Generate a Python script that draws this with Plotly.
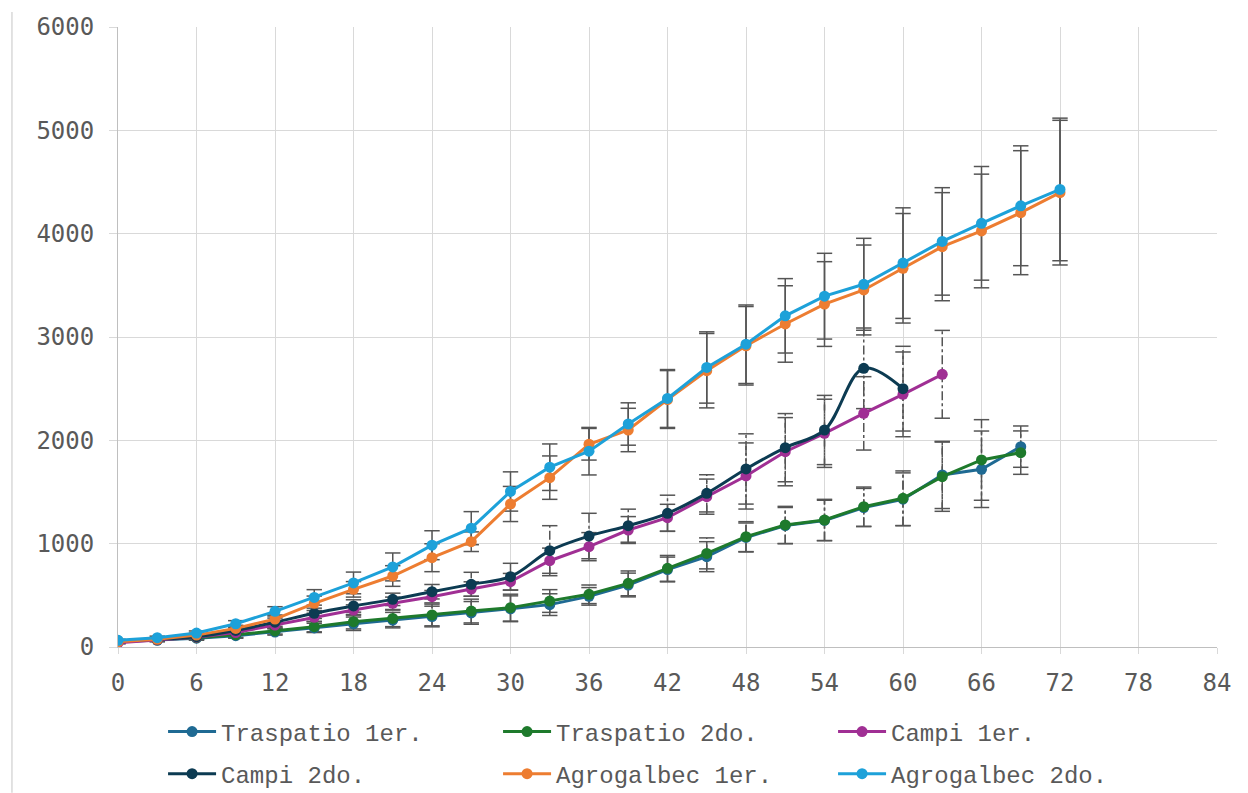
import plotly.graph_objects as go

t_all = [0, 3, 6, 9, 12, 15, 18, 21, 24, 27, 30, 33, 36, 39, 42, 45, 48, 51, 54, 57, 60, 63, 66, 69, 72]

tras1 = [50, 65, 85, 110, 145, 185, 225, 260, 295, 330, 370, 410, 490, 600, 750, 874, 1060, 1175, 1225, 1350, 1430, 1665, 1720, 1939]
tras1_err = [10, 15, 20, 25, 30, 45, 65, 75, 100, 110, 125, 105, 85, 115, 120, 145, 140, 175, 195, 185, 255, 325, 370, 200]

tras2 = [55, 70, 90, 118, 155, 197, 245, 277, 310, 348, 381, 445, 510, 616, 761, 906, 1068, 1181, 1229, 1358, 1439, 1648, 1810, 1881]
tras2_err = [10, 15, 20, 25, 30, 50, 70, 80, 105, 115, 130, 110, 90, 120, 125, 150, 145, 180, 200, 190, 265, 335, 390, 210]

campi1 = [40, 70, 95, 140, 213, 287, 358, 423, 487, 561, 632, 835, 971, 1132, 1251, 1455, 1655, 1890, 2068, 2261, 2445, 2639]
campi1_err = [10, 15, 20, 25, 30, 40, 50, 60, 60, 70, 80, 122, 136, 130, 130, 170, 320, 330, 330, 355, 410, 425]

campi2 = [60, 75, 100, 160, 240, 326, 397, 461, 535, 607, 680, 932, 1074, 1174, 1294, 1487, 1723, 1929, 2100, 2697, 2500]
campi2_err = [10, 15, 20, 25, 40, 50, 60, 60, 70, 116, 130, 242, 220, 160, 175, 180, 340, 330, 335, 390, 410]

agro1 = [50, 75, 115, 180, 270, 423, 558, 687, 864, 1019, 1384, 1639, 1962, 2100, 2395, 2674, 2915, 3126, 3319, 3455, 3665, 3874, 4026, 4203, 4397]
agro1_err = [10, 15, 20, 30, 40, 70, 75, 100, 135, 95, 170, 210, 153, 210, 280, 360, 380, 370, 410, 435, 530, 523, 550, 600, 700]

agro2 = [65, 90, 135, 225, 345, 480, 620, 775, 985, 1150, 1505, 1740, 1895, 2158, 2405, 2705, 2930, 3205, 3395, 3510, 3715, 3925, 4100, 4270, 4428]
agro2_err = [10, 15, 20, 30, 45, 75, 105, 135, 140, 160, 190, 225, 230, 205, 280, 345, 380, 360, 415, 445, 535, 520, 550, 580, 690]

series = [
    ("Traspatio 1er.", tras1, tras1_err, "#1F6A93", "dashdot", "legend", "linear"),
    ("Traspatio 2do.", tras2, tras2_err, "#1E7A2C", "dashdot", "legend", "linear"),
    ("Campi 1er.", campi1, campi1_err, "#A02F94", "dashdot", "legend", "linear"),
    ("Campi 2do.", campi2, campi2_err, "#0C3B52", "dashdot", "legend2", "spline"),
    ("Agrogalbec 1er.", agro1, agro1_err, "#ED7D31", "solid", "legend2", "linear"),
    ("Agrogalbec 2do.", agro2, agro2_err, "#1DA1D9", "solid", "legend2", "linear"),
]

ERR_COLOR = "#555555"
fig = go.Figure()

# error bars (drawn first, beneath the series)
for name, vals, errs, color, dash, lg, shape in series:
    xs = t_all[:len(vals)]
    bx, by = [], []
    for x, v, e in zip(xs, vals, errs):
        bx += [x, x, None]
        by += [v - e, v + e, None]
    fig.add_trace(go.Scatter(x=bx, y=by, mode="lines", showlegend=False, hoverinfo="skip",
                             line=dict(color=ERR_COLOR, width=1.5, dash=dash)))
    capx = xs + xs
    capy = [v - e for v, e in zip(vals, errs)] + [v + e for v, e in zip(vals, errs)]
    fig.add_trace(go.Scatter(x=capx, y=capy, mode="markers", showlegend=False, hoverinfo="skip",
                             marker=dict(symbol="line-ew", size=11,
                                         line=dict(color=ERR_COLOR, width=1.5))))

for name, vals, errs, color, dash, lg, shape in series:
    xs = t_all[:len(vals)]
    fig.add_trace(go.Scatter(
        x=xs, y=vals, name=name, mode="lines+markers", legend=lg,
        line=dict(color=color, width=3, shape=shape, smoothing=1.0),
        marker=dict(color=color, size=11, symbol="circle"),
    ))

legend_font = dict(family="Liberation Mono, Courier New, monospace", size=24, color="#595959")
common_legend = dict(orientation="h", xanchor="left", yanchor="middle", font=legend_font,
                     entrywidth=272, entrywidthmode="pixels", itemwidth=48,
                     bgcolor="rgba(0,0,0,0)", borderwidth=0, tracegroupgap=0)

tick_font = dict(family="DejaVu Sans Mono, monospace", size=24, color="#595959")

# page body has an 8px offset; figure sized to fill the rest of the window
fig.update_layout(
    width=1240, height=785,
    margin=dict(l=110, r=31, t=19, b=146, autoexpand=False),
    paper_bgcolor="white", plot_bgcolor="white",
    xaxis=dict(range=[0, 84], dtick=6, tick0=0, showgrid=True, gridcolor="#D9D9D9", gridwidth=1,
               zeroline=False, showline=True, linecolor="#BFBFBF", linewidth=1,
               ticks="outside", ticklen=6, tickcolor="#D9D9D9",
               tickfont=tick_font, ticklabelstandoff=8, automargin=False),
    yaxis=dict(range=[0, 6000], dtick=1000, tick0=0, showgrid=True, gridcolor="#D9D9D9", gridwidth=1,
               zeroline=False, showline=True, linecolor="#BFBFBF", linewidth=1,
               ticks="outside", ticklen=8, tickcolor="#D9D9D9",
               tickfont=tick_font, ticklabelstandoff=10, automargin=False),
    legend=dict(x=0.041, y=-0.137, **common_legend),
    legend2=dict(x=0.041, y=-0.205, **common_legend),
    showlegend=True,
    shapes=[dict(type="line", xref="paper", yref="paper", x0=-0.0965, x1=-0.0965,
                 y0=-0.235, y1=1.024, line=dict(color="#D9D9D9", width=1.5))],
)

fig.write_html("out.html")
